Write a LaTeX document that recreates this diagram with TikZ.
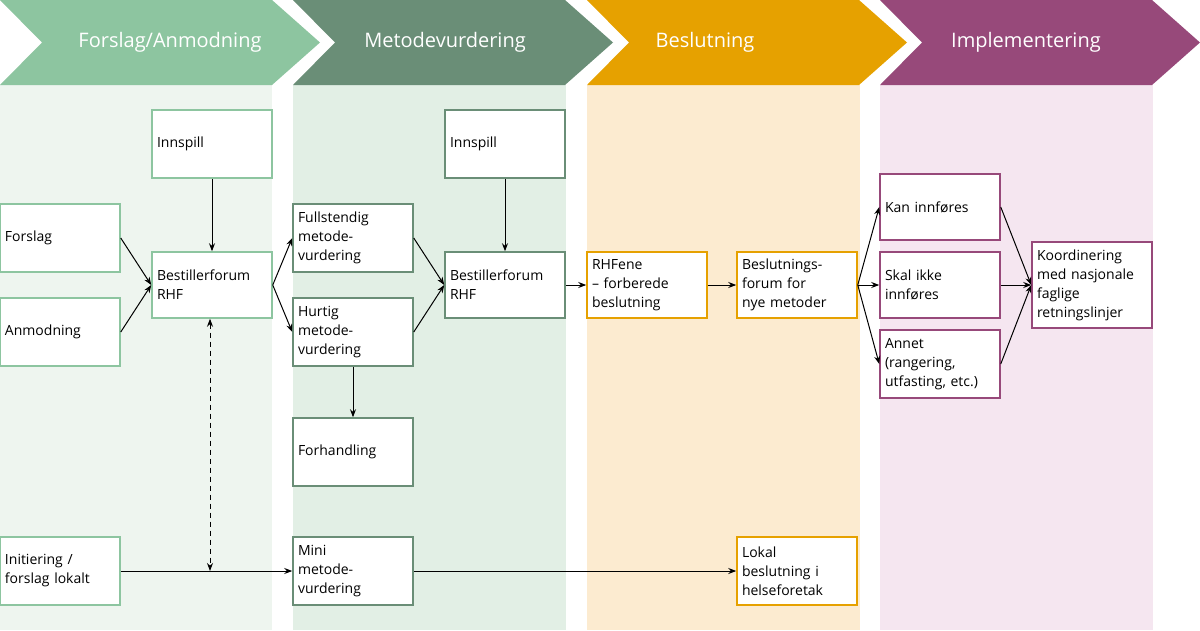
\documentclass[tikz,border=0pt]{standalone}
\usepackage{fontspec}
\setmainfont{Open Sans}
\usetikzlibrary{arrows.meta}
\definecolor{ca}{HTML}{8DC5A0}\definecolor{cb}{HTML}{6A8E77}
\definecolor{cc}{HTML}{E6A100}\definecolor{cd}{HTML}{97497A}
\definecolor{pa}{HTML}{EEF5EF}\definecolor{pb}{HTML}{E2EFE5}
\definecolor{pc}{HTML}{FCEBD0}\definecolor{pd}{HTML}{F5E6F0}
\begin{document}
\begin{tikzpicture}[x=1pt,y=-1pt,
  bx/.style={draw=#1,fill=white,line width=1.5pt,minimum width=120pt,minimum height=68pt,inner sep=0pt,text width=110pt,align=left,font=\fontsize{14}{19}\selectfont},
  hd/.style={text=white,font=\fontsize{20}{24}\selectfont},
  ar/.style={-{Stealth[length=8pt,width=6pt]},line width=1pt}]
\useasboundingbox (0,0) rectangle (1200,630);
\fill[pa] (0,85) rectangle (272,630);
\fill[pb] (293,85) rectangle (566,630);
\fill[pc] (587,85) rectangle (860,630);
\fill[pd] (880,85) rectangle (1153,630);
\foreach \x/\c in {0/ca,293/cb,587/cc,880/cd}
  \fill[\c] (\x,0) -- (\x+272,0) -- (\x+320,42.5) -- (\x+272,85) -- (\x,85) -- (\x+42,42.5) -- cycle;
\node[hd] (h1) at (170,42) {Forslag/Anmodning};
\node[hd] (h2) at (445,42) {Metodevurdering};
\node[hd] (h3) at (705,42) {Beslutning};
\node[hd] (h4) at (1026,42) {Implementering};
\node[bx=ca] (in1) at (212,144) {Innspill};
\node[bx=ca] (fo) at (60,238) {Forslag};
\node[bx=ca] (an) at (60,332) {Anmodning};
\node[bx=ca,minimum height=66pt] (b1) at (212,285) {Bestillerforum\\RHF};
\node[bx=ca] (ini) at (60,571) {Initiering /\\forslag lokalt};
\node[bx=cb] (fu) at (353,238) {Fullstendig\\metode-\\vurdering};
\node[bx=cb] (hu) at (353,332) {Hurtig\\metode-\\vurdering};
\node[bx=cb] (fh) at (353,452) {Forhandling};
\node[bx=cb] (mi) at (353,571) {Mini\\metode-\\vurdering};
\node[bx=cb] (in2) at (505,144) {Innspill};
\node[bx=cb,minimum height=66pt] (b2) at (505,285) {Bestillerforum\\RHF};
\node[bx=cc,minimum height=66pt] (rh) at (647,285) {RHFene\\– forberede\\beslutning};
\node[bx=cc,minimum height=66pt] (be) at (797,285) {Beslutnings-\\forum for\\nye metoder};
\node[bx=cc] (lo) at (797,571) {Lokal\\beslutning i\\helseforetak};
\node[bx=cd,minimum height=66pt] (ka) at (940,207) {Kan innføres};
\node[bx=cd,minimum height=66pt] (sk) at (940,285) {Skal ikke\\innføres};
\node[bx=cd] (ann) at (940,364) {Annet\\(rangering,\\utfasting, etc.)};
\node[bx=cd,minimum height=86pt] (ko) at (1092,285) {Koordinering\\med nasjonale\\faglige\\retningslinjer};
\draw[ar] (fo.east) -- (b1.west);
\draw[ar] (an.east) -- (b1.west);
\draw[ar] (in1) -- (b1);
\draw[ar] (b1.east) -- (fu.west);
\draw[ar] (b1.east) -- (hu.west);
\draw[ar] (fu.east) -- (b2.west);
\draw[ar] (hu.east) -- (b2.west);
\draw[ar] (hu) -- (fh);
\draw[ar] (in2) -- (b2);
\draw[ar] (b2) -- (rh);
\draw[ar] (rh) -- (be);
\draw[ar] (be.east) -- (ka.west);
\draw[ar] (be.east) -- (sk.west);
\draw[ar] (be.east) -- (ann.west);
\draw[ar] (ka.east) -- (ko.west);
\draw[ar] (sk.east) -- (ko.west);
\draw[ar] (ann.east) -- (ko.west);
\draw[ar] (ini) -- (mi);
\draw[ar] (mi) -- (lo);
\coordinate (dj) at (210,571);
\draw[{Stealth[length=8pt,width=6pt]}-{Stealth[length=8pt,width=6pt]},line width=1pt,dash pattern=on 5pt off 4pt] (b1.south -| dj) -- (dj);
\end{tikzpicture}
\end{document}
